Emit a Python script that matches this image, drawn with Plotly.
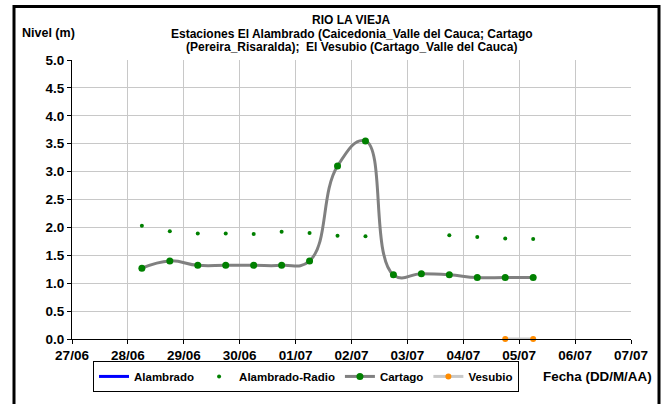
import plotly.graph_objects as go

# ---- data ----
times = ["2012-06-28 06:00", "2012-06-28 18:00", "2012-06-29 06:00", "2012-06-29 18:00",
         "2012-06-30 06:00", "2012-06-30 18:00", "2012-07-01 06:00", "2012-07-01 18:00",
         "2012-07-02 06:00", "2012-07-02 18:00", "2012-07-03 06:00", "2012-07-03 18:00",
         "2012-07-04 06:00", "2012-07-04 18:00", "2012-07-05 06:00"]
cartago = [1.27, 1.40, 1.32, 1.32, 1.32, 1.32, 1.40, 3.10, 3.55, 1.15, 1.17, 1.15, 1.10, 1.10, 1.10]
alambrado_radio = [2.03, 1.93, 1.89, 1.89, 1.88, 1.92, 1.90, 1.85, 1.84, None, None, 1.86, 1.83, 1.80, 1.79]
vesubio_times = ["2012-07-04 18:00", "2012-07-05 06:00"]
vesubio = [0.0, 0.0]
alambrado_times = [None]
alambrado = [None]

x_range = ["2012-06-27 00:00", "2012-07-07 00:00"]
title_lines = ["RIO LA VIEJA",
               "Estaciones El Alambrado (Caicedonia_Valle del Cauca; Cartago",
               "(Pereira_Risaralda);  El Vesubio (Cartago_Valle del Cauca)"]

FONT = "Arial, Liberation Sans, sans-serif"


def bfont(size):
    return dict(family=FONT, size=size, color="black", weight="bold")


fig = go.Figure()
fig.add_trace(go.Scatter(x=alambrado_times, y=alambrado, name="Alambrado", mode="lines",
                         line=dict(color="#0000ff", width=3)))
fig.add_trace(go.Scatter(x=times, y=alambrado_radio, name="Alambrado-Radio", mode="markers",
                         marker=dict(color="#008000", size=4)))
fig.add_trace(go.Scatter(x=times, y=cartago, name="Cartago", mode="lines+markers",
                         line=dict(color="#808080", width=3, shape="spline", smoothing=1.3),
                         marker=dict(color="#008000", size=7)))
fig.add_trace(go.Scatter(x=vesubio_times, y=vesubio, name="Vesubio", mode="lines+markers",
                         line=dict(color="#c8c8c8", width=3),
                         marker=dict(color="#ff8c00", size=6), cliponaxis=False))

L, R, T, B = 72, 40, 60, 57
W, H = 671, 404
pw, ph = W - L - R, H - T - B


def px(xp):
    return (xp - L) / pw


def py(yp):
    return (H - B - yp) / ph


annotations = []
for txt, yc in zip(title_lines, [19.0, 33.0, 46.5]):
    annotations.append(dict(text=txt, x=0.5, y=py(yc), xref="paper", yref="paper",
                            xanchor="center", yanchor="middle", showarrow=False,
                            font=bfont(12)))
annotations.append(dict(text="Nivel (m)", x=px(20), y=py(32), xref="paper", yref="paper",
                        xanchor="left", yanchor="middle", showarrow=False,
                        font=bfont(12.5)))
annotations.append(dict(text="Fecha (DD/M/AA)", x=px(597.5), y=py(386), xref="paper", yref="paper",
                        xanchor="center", yanchor="middle", showarrow=False,
                        font=bfont(13.4)))

fig.update_layout(
    width=W, height=H,
    margin=dict(l=L, r=R, t=T, b=B),
    paper_bgcolor="white", plot_bgcolor="white",
    font=dict(family=FONT, color="black"),
    showlegend=True,
    legend=dict(orientation="h", x=px(306), y=py(385.5), xanchor="center", yanchor="middle",
                bordercolor="black", borderwidth=1, bgcolor="white",
                font=bfont(11.5), itemwidth=30, tracegroupgap=0),
    annotations=annotations,
    shapes=[dict(type="rect", xref="paper", yref="paper",
                 x0=px(14), x1=px(659), y0=py(420), y1=py(5),
                 line=dict(color="black", width=3), layer="above")],
)

fig.update_xaxes(type="date", range=x_range, dtick=86400000, tickformat="%d/%m",
                 tick0="2012-06-27", showgrid=True, gridcolor="#c8c8c8", gridwidth=1,
                 showline=True, linecolor="black", linewidth=1, ticks="outside", ticklen=4,
                 tickcolor="black", tickfont=bfont(13.5), zeroline=False)
fig.update_yaxes(range=[0, 5], dtick=0.5, tickformat=".1f", showgrid=True,
                 gridcolor="#c8c8c8", gridwidth=1, showline=True, linecolor="black",
                 linewidth=1, ticks="outside", ticklen=4, tickcolor="black",
                 tickfont=bfont(13.5), zeroline=False)

fig.write_html("out.html", config={"displayModeBar": False},
               post_script="document.body.style.margin='0';document.body.style.padding='0';")
